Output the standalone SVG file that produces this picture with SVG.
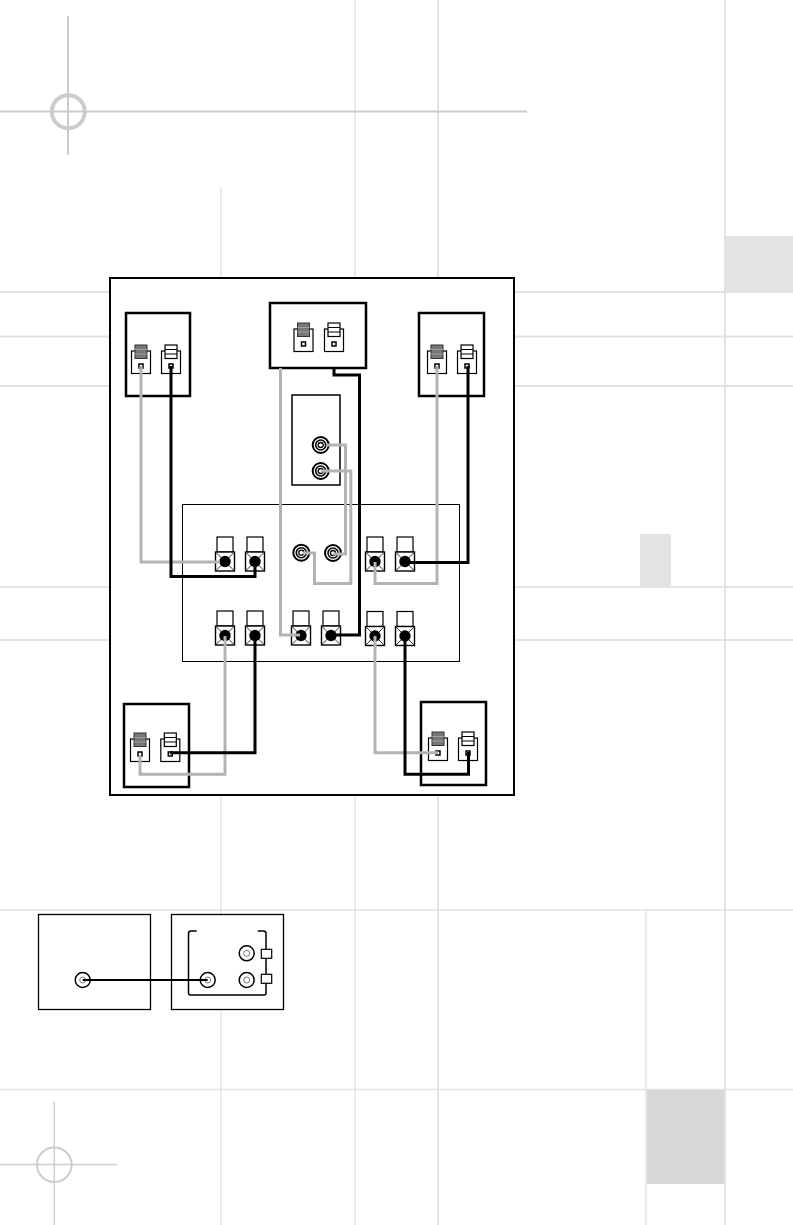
<svg xmlns="http://www.w3.org/2000/svg" width="793" height="1225" viewBox="0 0 793 1225">
<style>
.bg{stroke:#e3e3e3;stroke-width:2;fill:none}
.bgt{stroke:#e3e3e3;stroke-width:1.500;fill:none}
.reg{stroke:#ccc;fill:none}
.box{fill:#fff;stroke:#000;stroke-width:2.500}
.thin{fill:#fff;stroke:#000;stroke-width:1.200}
.g{fill:none;stroke:#b3b3b3;stroke-width:3}
.k{fill:none;stroke:#000;stroke-width:3}
.td{fill:#777;stroke:#333;stroke-width:1}
.x{stroke:#333;stroke-width:1;fill:none}
</style>
<g id="background">
<path class="bgt" d="M221 188V1225M355 0V1225M646 910V1225M0 910H793M0 1089.500H793"/>
<path class="bg" d="M438 0V1225M725 0V1225M0 292H793M0 336.500H793M0 386H793M0 587H793M0 640H793"/>
<rect x="726" y="236" width="67" height="55" fill="#e3e3e3"/>
<rect x="640" y="534" width="31" height="54" fill="#e3e3e3"/>
<rect x="647" y="1090" width="77" height="94" fill="#d8d8d8"/>
<path class="reg" stroke-width="2" d="M68 16V155M0 111.500H527"/>
<circle class="reg" stroke-width="4" cx="68.300" cy="111.700" r="16.500"/>
<path class="reg" stroke-width="1.500" d="M54.300 1102V1225M0 1164.500H117"/>
<circle class="reg" stroke-width="2" cx="54.300" cy="1164.700" r="17.300"/>
</g>
<rect id="frame" x="110" y="278" width="404" height="517" fill="#fff" stroke="#000" stroke-width="2"/>
<defs>
<g id="tdark"><rect class="thin" x="-9.500" y="-11" width="19" height="22.500"/><rect class="td" x="-6" y="-17" width="12" height="13.500"/><path d="M-6 -12.500H6M-6 -8H6" stroke="#aaa" stroke-width=".8"/><rect x="-2" y="2" width="4" height="4" fill="#fff" stroke="#000" stroke-width="1.500"/></g>
<g id="tlight"><rect class="thin" x="-9.500" y="-11" width="19" height="22.500"/><rect x="-6" y="-17" width="12" height="13.500" fill="#fff" stroke="#000" stroke-width="1.200"/><path d="M-6 -12.500H6M-6 -8H6" stroke="#000" stroke-width="1"/><rect x="-2" y="2" width="4" height="4" fill="#fff" stroke="#000" stroke-width="1.500"/></g>
<g id="post"><rect class="thin" x="-8" y="-27" width="16" height="15"/><rect x="-9.500" y="-12" width="19" height="19" fill="#fff" stroke="#000" stroke-width="1.400"/><path class="x" d="M-9.500 -12L9.500 7M9.500 -12L-9.500 7"/><circle cx="0" cy="-2.500" r="5.700" fill="#000"/></g>
<g id="rca"><circle r="8" fill="#fff" stroke="#000" stroke-width="2"/><circle r="5" fill="#fff" stroke="#000" stroke-width="1.600"/><circle r="2.500" fill="#fff" stroke="#000" stroke-width="1.300"/></g>
<g id="jack"><circle r="7.500" fill="#fff" stroke="#000" stroke-width="1.500"/><circle r="3" fill="none" stroke="#555" stroke-width=".8"/></g>
</defs>
<g id="speaker-fl"><rect class="box" x="126" y="313" width="64" height="83"/><use href="#tdark" x="141" y="362"/><use href="#tlight" x="171" y="362"/></g>
<g id="speaker-c"><rect class="box" x="270" y="303" width="96" height="65"/><use href="#tdark" x="303.500" y="340"/><use href="#tlight" x="334" y="340"/></g>
<g id="speaker-fr"><rect class="box" x="419" y="313" width="65" height="83"/><use href="#tdark" x="437" y="362"/><use href="#tlight" x="467" y="362"/></g>
<g id="subwoofer"><rect x="292" y="395" width="48" height="90" fill="#fff" stroke="#000" stroke-width="1.500"/><use href="#rca" x="320.700" y="445"/><use href="#rca" x="320.700" y="471"/></g>
<g id="receiver"><rect x="182.500" y="504.500" width="277" height="157" fill="#fff" stroke="#000" stroke-width="1"/>
<use href="#post" x="225" y="564"/><use href="#post" x="255" y="564"/><use href="#rca" x="301.300" y="552.700"/><use href="#rca" x="333" y="553"/><use href="#post" x="375" y="564"/><use href="#post" x="405" y="564"/>
<use href="#post" x="225" y="638"/><use href="#post" x="255" y="638"/><use href="#post" x="301" y="638"/><use href="#post" x="331" y="638"/><use href="#post" x="375" y="638.500"/><use href="#post" x="405" y="638.500"/></g>
<g id="speaker-rl"><rect class="box" x="124" y="704" width="65" height="83"/><use href="#tdark" x="140" y="750"/><use href="#tlight" x="170.300" y="750"/></g>
<g id="speaker-rr"><rect class="box" x="421" y="702" width="65" height="83"/><use href="#tdark" x="438" y="749"/><use href="#tlight" x="468" y="749"/></g>
<g id="source"><rect x="38.500" y="914.500" width="112" height="95" fill="#fff" stroke="#000" stroke-width="1.300"/><use href="#jack" x="82.700" y="980"/></g>
<g id="sink"><rect x="171.500" y="914.500" width="112" height="95" fill="#fff" stroke="#000" stroke-width="1.300"/>
<path d="M196.700 931H191Q188.500 931 188.500 933.500V993Q188.500 995 190.500 995H264Q266 995 266 993V933.500Q266 931 263.500 931H257.700" fill="none" stroke="#000" stroke-width="1.500"/>
<use href="#jack" x="207.700" y="980"/><use href="#jack" x="246.700" y="953.300"/><use href="#jack" x="246.700" y="980"/>
<rect class="thin" x="261.300" y="949.300" width="10.400" height="9"/><rect class="thin" x="261.300" y="974.300" width="10.400" height="9"/></g>
<g id="connectors">
<path class="g" d="M141 366V562H220"/>
<path class="k" d="M171 366V576.500H255V562"/>
<path class="g" d="M280.500 368V635H300"/>
<path class="k" d="M334 368V375H359.500V635H331"/>
<path class="g" d="M327 445H345.500V554H333"/>
<path class="g" d="M321 471H350.800V583.500H314.500V553H303"/>
<path class="g" d="M437 366V583.500H375V562"/>
<path class="k" d="M468 366V562.500H405"/>
<path class="g" d="M225 636V774.300H140V755"/>
<path class="k" d="M255 636V752.700H170"/>
<path class="g" d="M375 636V752.700H438"/>
<path class="k" d="M405 636V774.300H468.500V752"/>
<path d="M82.700 980H207.700" fill="none" stroke="#000" stroke-width="2"/>
</g>
</svg>
